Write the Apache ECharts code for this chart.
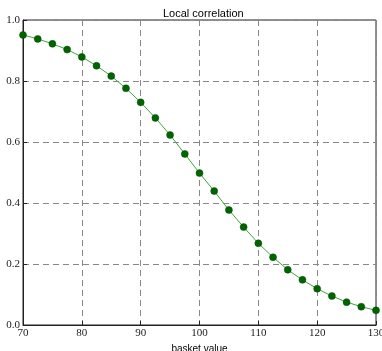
<!DOCTYPE html>
<html><head><meta charset="utf-8">
<script src="https://cdn.jsdelivr.net/npm/echarts@6/dist/echarts.min.js"></script>
<style>html,body{margin:0;padding:0;background:#fff}#c{width:382px;height:351px}</style>
</head><body><div id="c"></div>
<script>
const basketValues = [70,72.5,75,77.5,80,82.5,85,87.5,90,92.5,95,97.5,100,102.5,105,107.5,110,112.5,115,117.5,120,122.5,125,127.5,130];
const correlation = [0.951,0.938,0.922,0.903,0.879,0.850,0.816,0.776,0.730,0.679,0.623,0.561,0.498,0.439,0.377,0.321,0.268,0.222,0.181,0.148,0.119,0.095,0.075,0.060,0.048];
const xTicks = [70,80,90,100,110,120,130];
const yTicks = [0.0,0.2,0.4,0.6,0.8,1.0];

const chart = echarts.init(document.getElementById('c'), null, {renderer:'canvas'});
const gridLine = {show:true, lineStyle:{color:'#888', type:[6,4], width:1}};
chart.setOption({
  animation:false,
  title:{text:'Local correlation', left:158, top:3, textStyle:{fontFamily:'Liberation Sans, Arial, sans-serif', fontSize:11, fontWeight:'normal', color:'#000'}},
  grid:{left:23, right:6, top:20, bottom:26, show:true, borderColor:'#222', borderWidth:1, containLabel:false, outerBoundsMode:'none'},
  xAxis:{type:'value', min:xTicks[0], max:xTicks[xTicks.length-1], interval:10,
    name:'basket value', nameLocation:'middle', nameGap:14,
    nameTextStyle:{fontFamily:'Liberation Sans, Arial, sans-serif', fontSize:10, color:'#000', verticalAlign:'top'},
    axisLine:{show:true, lineStyle:{color:'#222', width:1}},
    axisTick:{show:true, inside:true, length:4, lineStyle:{color:'#222'}},
    axisLabel:{fontFamily:'Liberation Serif, serif', fontSize:11, color:'#222', margin:3},
    splitLine:gridLine},
  yAxis:{type:'value', min:yTicks[0], max:yTicks[yTicks.length-1], interval:0.2,
    axisLine:{show:true, lineStyle:{color:'#222', width:1}},
    axisTick:{show:true, inside:true, length:4, lineStyle:{color:'#222'}},
    axisLabel:{fontFamily:'Liberation Serif, serif', fontSize:11, color:'#222', margin:3, formatter:v=>v.toFixed(1)},
    splitLine:gridLine},
  series:[{type:'line', data:basketValues.map((x,i)=>[x,correlation[i]]),
    symbol:'circle', symbolSize:7, smooth:false,
    lineStyle:{color:'#3aa63a', width:1},
    itemStyle:{color:'#006400', borderColor:'#004d00', borderWidth:0.5},
    clip:false}]
});
</script></body></html>
